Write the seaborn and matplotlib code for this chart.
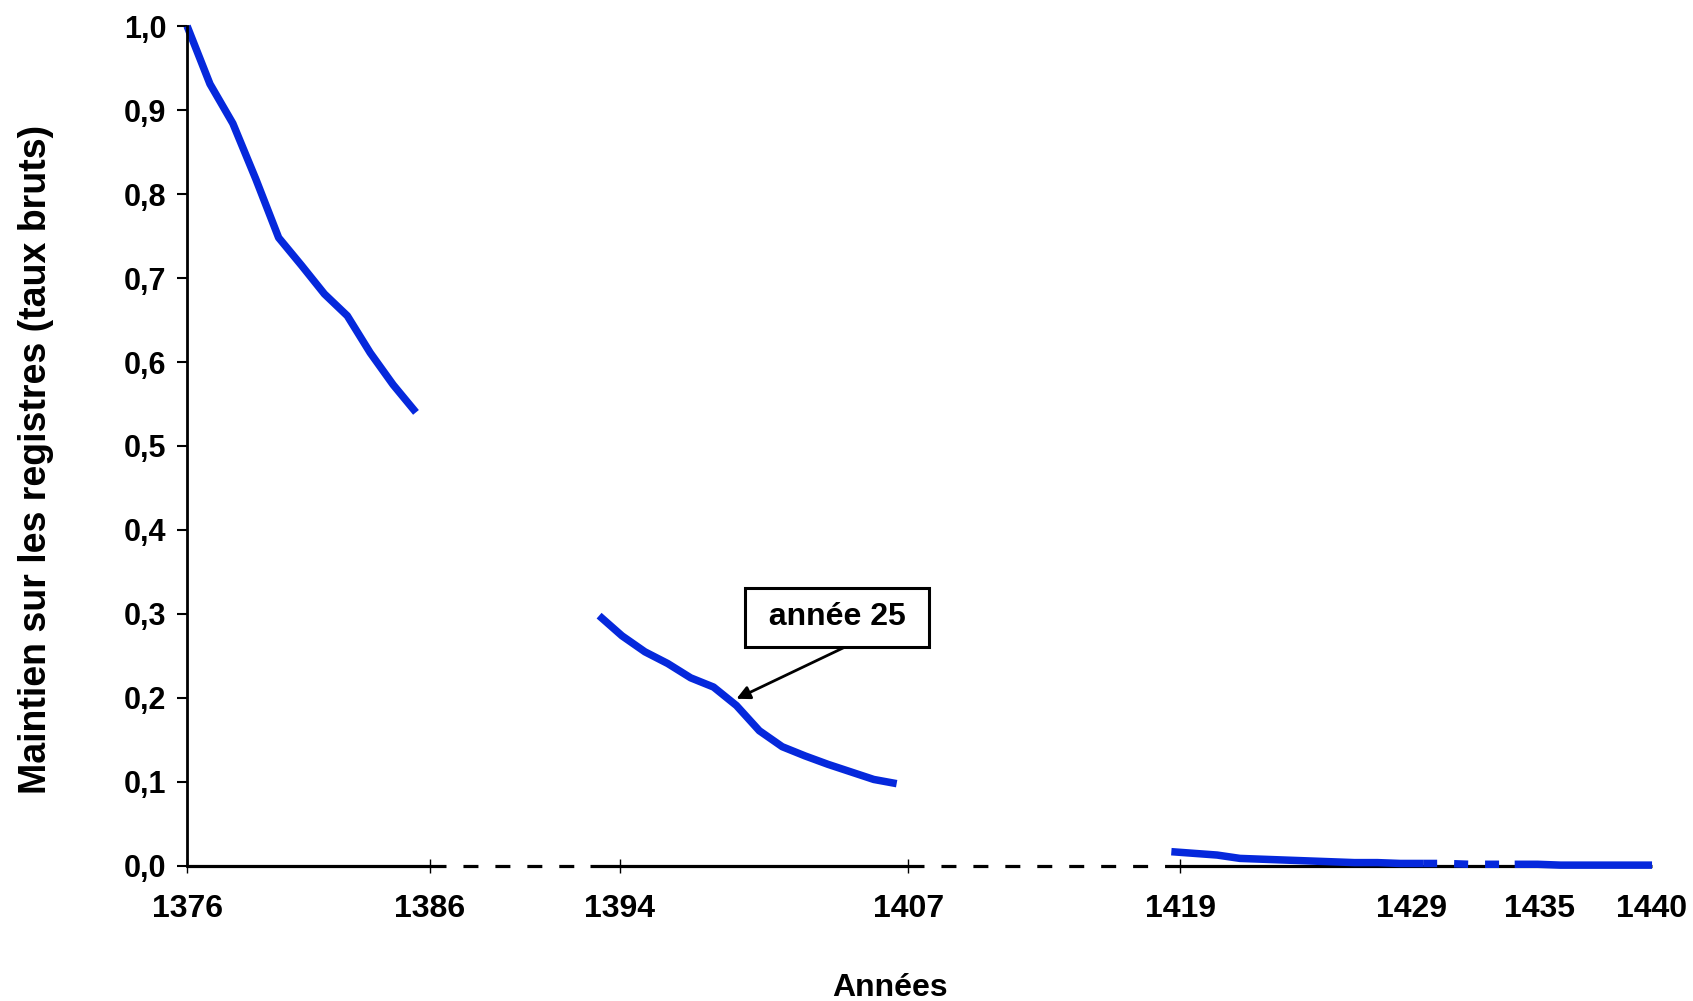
import matplotlib
matplotlib.use("Agg")
import matplotlib.pyplot as plt
import seaborn as sns
import pandas as pd

# data
years_a = list(range(1376, 1387))
rate_a = [1.0, 0.931, 0.884, 0.818, 0.748, 0.715, 0.681, 0.655, 0.611, 0.573, 0.540]

years_b = list(range(1394, 1408))
rate_b = [0.298, 0.274, 0.255, 0.241, 0.224, 0.213, 0.191, 0.161, 0.142, 0.131,
          0.121, 0.112, 0.103, 0.098]

years_c = list(range(1419, 1441))
rate_c = [0.017, 0.015, 0.013, 0.009, 0.008, 0.007, 0.006, 0.005, 0.004, 0.004,
          0.003, 0.003, 0.003, 0.002, 0.002, 0.002, 0.002, 0.001, 0.001, 0.001,
          0.001, 0.001]

# part of the last series drawn dashed (years)
dash_from, dash_to = 1430, 1434

tick_labels = ["1376", "1386", "1394", "1407", "1419", "1429", "1435", "1440"]
tick_pos = [1376, 1386.6, 1394.9, 1407.5, 1419.4, 1429.5, 1435.1, 1440]
# broken x axis: dashed stretches
axis_breaks = [(1387.3, 1393.6), (1408.2, 1419.4)]

ann_year = 1400
ann_label = " année 25 "

df = pd.concat([
    pd.DataFrame({"year": years_a, "rate": rate_a, "part": "a"}),
    pd.DataFrame({"year": years_b, "rate": rate_b, "part": "b"}),
    pd.DataFrame({"year": years_c, "rate": rate_c, "part": "c"}),
])
df_c = df[df.part == "c"]
c1 = df_c[df_c.year <= dash_from]
c2 = df_c[(df_c.year >= dash_from) & (df_c.year <= dash_to)]
c3 = df_c[df_c.year >= dash_to]
df_solid = pd.concat([df[df.part != "c"], c1.assign(part="c1"), c3.assign(part="c3")])

sns.set_style("ticks", {"text.color": "black", "axes.labelcolor": "black",
                        "xtick.color": "black", "ytick.color": "black",
                        "axes.edgecolor": "black"})
plt.rcParams["font.family"] = ["Liberation Sans", "DejaVu Sans"]
plt.rcParams["font.weight"] = "bold"
plt.rcParams["lines.scale_dashes"] = False

blue = "#0528DC"
fig = plt.figure(figsize=(16.93, 10.01), dpi=100)
ax = fig.add_axes([0.1105, 0.1349, 0.8653, 0.8391])

sns.lineplot(data=df_solid, x="year", y="rate", units="part", estimator=None,
             color=blue, lw=5.4, ax=ax, clip_on=False, solid_capstyle="butt")
sns.lineplot(data=c2, x="year", y="rate", estimator=None, color=blue, lw=5.4,
             ax=ax, clip_on=False, linestyle=(0, (10.1, 12.2)), dash_capstyle="butt")

# hand-drawn looking x axis with dashed breaks
pts = [tick_pos[0]] + [v for b in axis_breaks for v in b] + [years_c[-1]]
for i in range(len(pts) - 1):
    ls = "-" if i % 2 == 0 else (10.8, (10.8, 12.2))
    ax.plot([pts[i], pts[i + 1]], [0, 0], color="black", lw=2.3, ls=ls,
            clip_on=False, zorder=1, solid_capstyle="butt", dash_capstyle="butt")

ax.set_xlim(1376, 1440)
ax.set_ylim(0, 1)
ax.set_xticks(tick_pos)
ax.set_xticklabels(tick_labels, fontsize=23, fontweight="bold")
yt = [i / 10 for i in range(11)]
ax.set_yticks(yt)
ax.set_yticklabels([f"{v:.1f}".replace(".", ",") for v in yt], fontsize=22, fontweight="bold")
ax.tick_params(axis="x", direction="inout", length=10, width=1, pad=15)
ax.tick_params(axis="y", direction="out", length=7, width=1.5, pad=8)
for t in ax.xaxis.get_major_ticks()[5:]:
    t.tick1line.set_visible(False)

sns.despine(ax=ax, bottom=True)
ax.spines["left"].set_linewidth(2)

ax.set_xlabel("Années", fontsize=23, fontweight="bold")
ax.set_ylabel("Maintien sur les registres (taux bruts)", fontsize=27, fontweight="bold")
ax.xaxis.set_label_coords(0.48, -0.128)
ax.yaxis.set_label_coords(-0.091, 0.4845)

y_ann = rate_b[years_b.index(ann_year)] + 0.008
ax.annotate(ann_label, xy=(ann_year, y_ann), xytext=(1404.4, 0.296),
            ha="center", va="center", fontsize=23, fontweight="bold",
            bbox=dict(boxstyle="square,pad=0.45", fc="white", ec="black", lw=2.2),
            arrowprops=dict(arrowstyle="-|>", color="black", lw=2, mutation_scale=20,
                            relpos=(0.75, 0), shrinkA=0, shrinkB=0))

fig.savefig("out.png", dpi=100)
